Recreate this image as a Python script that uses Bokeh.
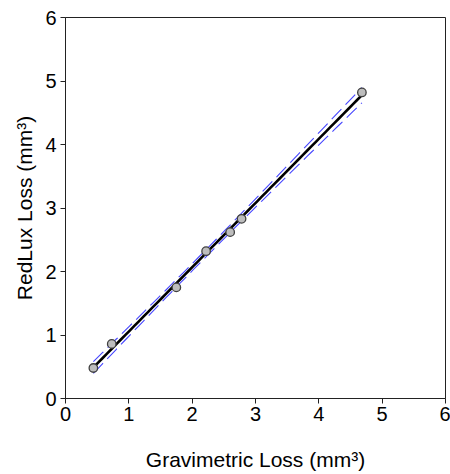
import numpy as np
from bokeh.plotting import figure
from bokeh.models import Range1d, FixedTicker
from bokeh.embed import file_html
from bokeh.resources import INLINE

# ---- data ----
grav_loss = [0.44, 0.73, 1.75, 2.22, 2.60, 2.78, 4.68]
redlux_loss = [0.48, 0.86, 1.75, 2.32, 2.62, 2.83, 4.82]
tick_values = [0, 1, 2, 3, 4, 5, 6]

x_title = "Gravimetric Loss (mm\u00b3)"
y_title = "RedLux Loss (mm\u00b3)"

FONT = "Liberation Sans"

# ---- linear regression with 95% confidence band ----
x = np.array(grav_loss)
y = np.array(redlux_loss)
n = len(x)
b, a = np.polyfit(x, y, 1)
xf = np.linspace(x.min(), x.max(), 60)
yf = a + b * xf
resid = y - (a + b * x)
s = np.sqrt(np.sum(resid ** 2) / (n - 2))
sxx = np.sum((x - x.mean()) ** 2)
t = 2.571  # t(0.975, df=5)
half = t * s * np.sqrt(1.0 / n + (xf - x.mean()) ** 2 / sxx)

# ---- layout (canvas pixels) ----
W, H = 450, 474
LEFT, RIGHT, TOP, BOTTOM = 65, 5, 17, 76

p = figure(width=W, height=H, output_backend="svg", toolbar_location=None,
           x_range=Range1d(0, 6), y_range=Range1d(0, 6),
           min_border_left=LEFT, min_border_right=RIGHT,
           min_border_top=TOP, min_border_bottom=BOTTOM,
           x_axis_label=x_title, y_axis_label=y_title)

p.xgrid.visible = False
p.ygrid.visible = False
p.outline_line_color = "#222222"
p.outline_line_width = 1
p.background_fill_color = "white"
p.border_fill_color = "white"

for ax in (p.xaxis[0], p.yaxis[0]):
    ax.ticker = FixedTicker(ticks=tick_values)
    ax.minor_tick_line_color = None
    ax.major_tick_out = 5
    ax.major_tick_in = 0
    ax.axis_line_color = "#222222"
    ax.major_tick_line_color = "#222222"
    ax.major_label_text_font = FONT
    ax.major_label_text_font_size = "20px"
    ax.major_label_text_color = "black"
    ax.axis_label_text_font = FONT
    ax.axis_label_text_font_size = "21px"
    ax.axis_label_text_font_style = "normal"
    ax.axis_label_text_color = "black"
p.xaxis.major_label_standoff = 3
p.yaxis.major_label_standoff = 4
p.xaxis.axis_label_standoff = 24
p.yaxis.axis_label_standoff = 6

# confidence band
p.line(xf, yf + half, line_color="#4646ff", line_width=1.1, line_dash="14 6")
p.line(xf, yf - half, line_color="#4646ff", line_width=1.1, line_dash="14 6")
# regression line
p.line(xf, yf, line_color="black", line_width=2.6)
# points
p.scatter(grav_loss, redlux_loss, size=8.5, fill_color="#bdbdbd",
          line_color="#404040", line_width=1.3)

open("out.html", "w").write(file_html(p, INLINE))
